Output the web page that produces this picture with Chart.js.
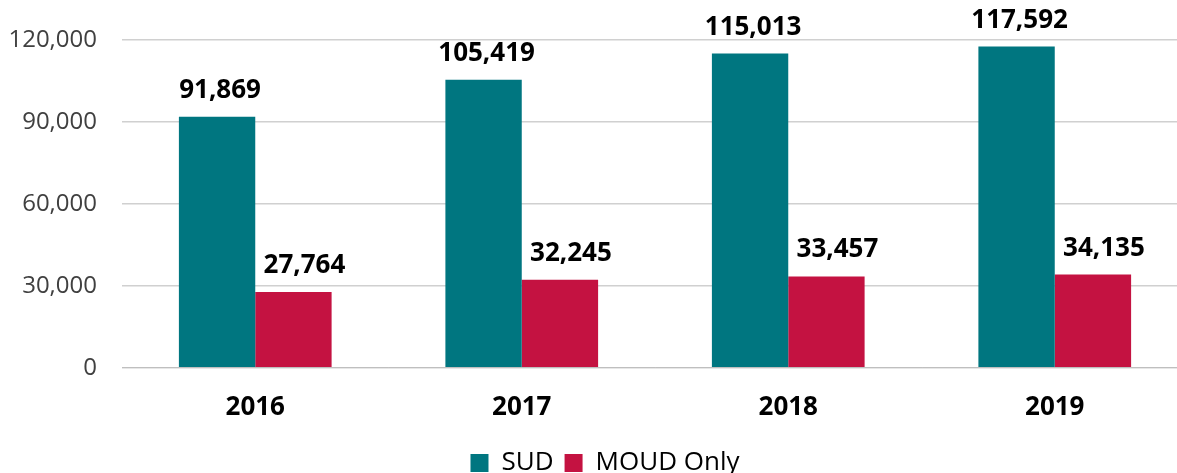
<!DOCTYPE html>
<html>
<head>
<meta charset="utf-8">
<script src="https://cdn.jsdelivr.net/npm/chart.js@4/dist/chart.umd.min.js"></script>
<style>
  html, body { margin: 0; padding: 0; background: #fff; overflow: hidden; }
  #wrap { width: 1210px; height: 473px; }
</style>
</head>
<body>
<div id="wrap"><canvas id="chart"></canvas></div>
<script>
// data
const years = ["2016", "2017", "2018", "2019"];
const sudCounts = [91869, 105419, 115013, 117592];
const moudCounts = [27764, 32245, 33457, 34135];
const yTicks = [0, 30000, 60000, 90000, 120000];

const fmt = v => v.toLocaleString("en-US");

// draws the bold value above each bar
const valueLabels = {
    id: "valueLabels",
    afterDatasetsDraw(chart) {
        const ctx = chart.ctx;
        ctx.save();
        ctx.font = "bold 26px 'Open Sans'";
        ctx.fillStyle = "#000";
        ctx.textAlign = "center";
        ctx.textBaseline = "alphabetic";
        chart.data.datasets.forEach((ds, i) => {
            const shift = i === 0 ? 3 : 11;
            chart.getDatasetMeta(i).data.forEach((bar, j) => {
                ctx.fillText(fmt(ds.data[j]), bar.x + shift, bar.y - 19);
            });
        });
        ctx.restore();
    }
};

// nudge the legend a little to the right, like the original
const legendShift = {
    id: "legendShift",
    afterLayout(chart) {
        chart.legend.left += 11;
        chart.legend.right += 11;
    }
};

new Chart(document.getElementById("chart"), {
    type: "bar",
    data: {
        labels: years,
        datasets: [
            {
                label: "SUD",
                data: sudCounts,
                backgroundColor: "#007680",
                barPercentage: 1,
                categoryPercentage: 0.573
            },
            {
                label: "MOUD Only",
                data: moudCounts,
                backgroundColor: "#C41241",
                barPercentage: 1,
                categoryPercentage: 0.573
            }
        ]
    },
    options: {
        responsive: true,
        maintainAspectRatio: false,
        animation: false,
        layout: { padding: { top: 40, right: 22, left: 0, bottom: -13 } },
        plugins: {
            tooltip: { enabled: false },
            legend: {
                position: "bottom",
                labels: {
                    font: { family: "'Open Sans'", size: 26 },
                    color: "#000",
                    boxWidth: 18,
                    boxHeight: 18,
                    padding: 11
                }
            }
        },
        scales: {
            x: {
                grid: { display: false },
                border: { display: true, color: "#bfbfbf", width: 1 },
                ticks: {
                    font: { family: "'Open Sans'", size: 26, weight: "bold" },
                    color: "#000",
                    padding: 16
                }
            },
            y: {
                min: 0,
                max: 120000,
                afterBuildTicks: axis => {
                    axis.ticks = yTicks.map(v => ({ value: v }));
                },
                afterFit: axis => { axis.width = 122; },
                border: { display: false },
                grid: {
                    color: "#d0d0d0",
                    lineWidth: 1.5,
                    drawTicks: false
                },
                ticks: {
                    font: { family: "'Open Sans'", size: 24 },
                    color: "#404040",
                    padding: 25,
                    callback: v => fmt(v)
                }
            }
        }
    },
    plugins: [valueLabels, legendShift]
});
</script>
</body>
</html>
